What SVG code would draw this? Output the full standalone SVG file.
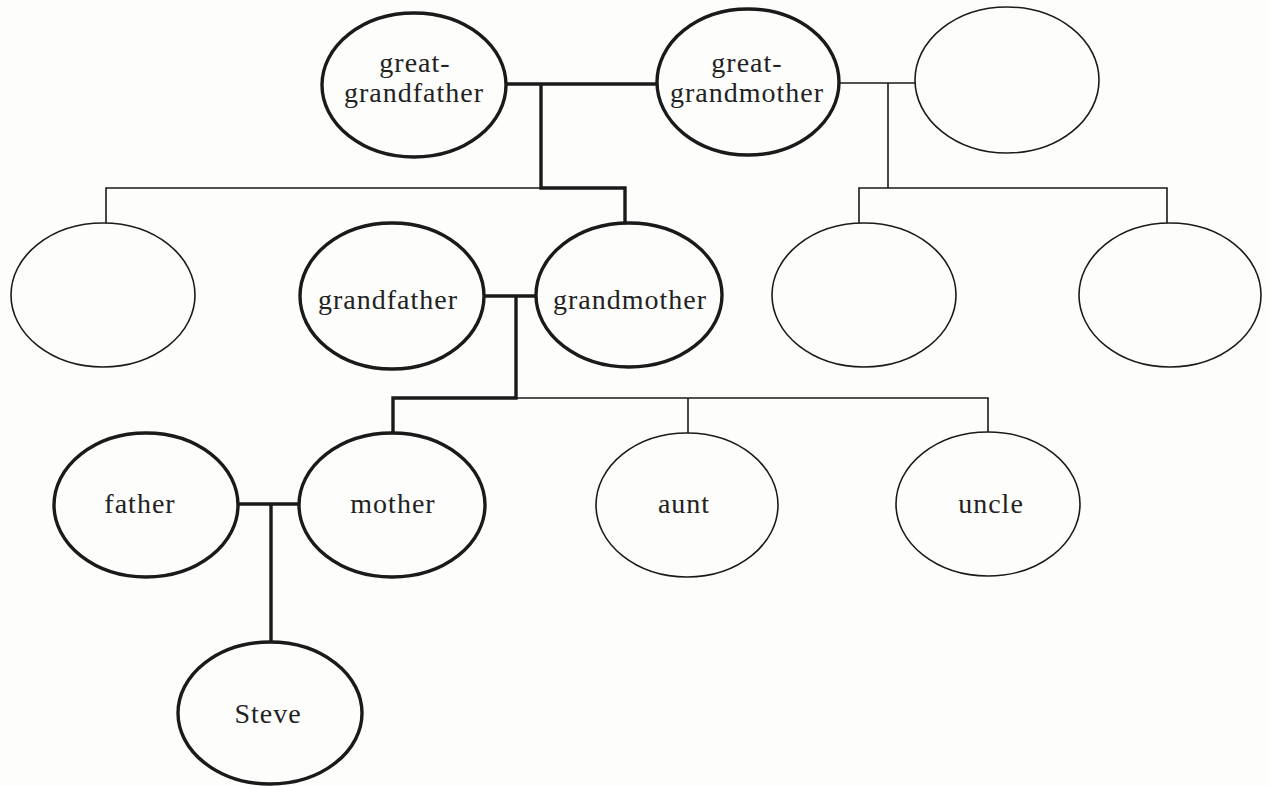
<svg xmlns="http://www.w3.org/2000/svg" width="1268" height="786" viewBox="0 0 1268 786">
<style>
.bg{fill:#fdfdfc}
.n{fill:none;stroke:#1a1a1a;stroke-width:1.6}
.b{fill:none;stroke:#1a1a1a;stroke-width:3.4}
.c{fill:none;stroke:#1a1a1a;stroke-width:1.6}
.cb{fill:none;stroke:#1a1a1a;stroke-width:3.4}
text{font-family:"Liberation Serif","DejaVu Serif",serif;font-size:28px;letter-spacing:1px;fill:#222;text-anchor:middle}
</style>
<rect class="bg" width="1268" height="786"/>
<g id="connectors">
<path class="cb" d="M506 84H657M541 84V188H625V222"/>
<path class="c" d="M541 188H106V223"/>
<path class="c" d="M839 83H915M888 83V188M859 223V188H1167V223"/>
<path class="cb" d="M484 296H536M516 296V398H393V433"/>
<path class="c" d="M516 398H988V432M688 398V433"/>
<path class="cb" d="M238 504H300M271 504V642"/>
</g>
<g id="great-grandfather"><ellipse class="b" cx="414" cy="85" rx="92" ry="72"/><text x="415" y="72">great-</text><text x="414" y="102">grandfather</text></g>
<g id="great-grandmother"><ellipse class="b" cx="748" cy="82" rx="91" ry="73"/><text x="747" y="72">great-</text><text x="747" y="102">grandmother</text></g>
<g id="empty-top"><ellipse class="n" cx="1007" cy="80" rx="92" ry="73"/></g>
<g id="empty-left"><ellipse class="n" cx="103" cy="295" rx="92" ry="72"/></g>
<g id="grandfather"><ellipse class="b" cx="392" cy="296" rx="92" ry="73"/><text x="388" y="309">grandfather</text></g>
<g id="grandmother"><ellipse class="b" cx="629" cy="295" rx="93" ry="72"/><text x="630" y="309">grandmother</text></g>
<g id="empty-mid"><ellipse class="n" cx="864" cy="295" rx="92" ry="72"/></g>
<g id="empty-right"><ellipse class="n" cx="1170" cy="295" rx="91" ry="72"/></g>
<g id="father"><ellipse class="b" cx="146" cy="505" rx="92" ry="72"/><text x="140" y="513">father</text></g>
<g id="mother"><ellipse class="b" cx="392" cy="505" rx="93" ry="72"/><text x="393" y="513">mother</text></g>
<g id="aunt"><ellipse class="n" cx="687" cy="505" rx="91" ry="72"/><text x="684" y="513">aunt</text></g>
<g id="uncle"><ellipse class="n" cx="988" cy="504" rx="92" ry="72"/><text x="991" y="513">uncle</text></g>
<g id="steve"><ellipse class="b" cx="270" cy="713" rx="92" ry="71"/><text x="268" y="723">Steve</text></g>
</svg>
